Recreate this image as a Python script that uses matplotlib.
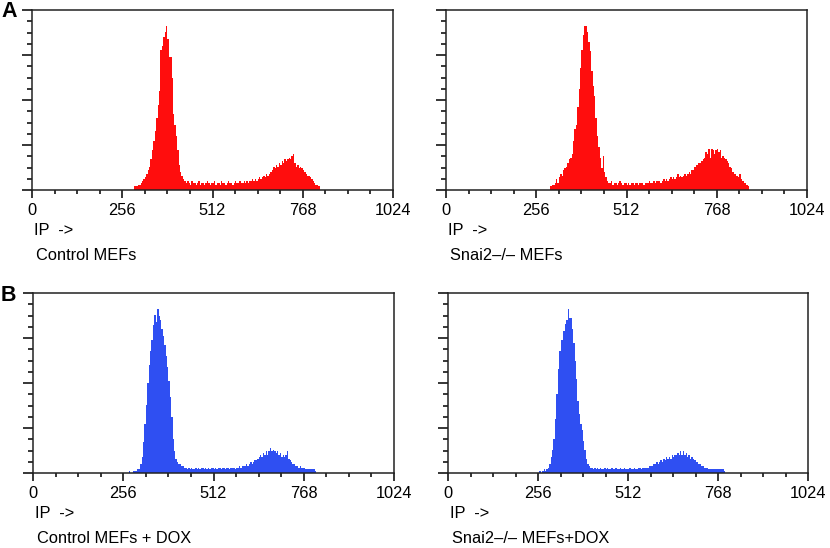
import numpy as np
import matplotlib
matplotlib.use("Agg")
import matplotlib.pyplot as plt
from matplotlib.ticker import MultipleLocator

# channel bins are 4 wide; each series starts at its own first channel
bin_width = 4

ctrl_start = 288
ctrl_counts = [2, 2, 2, 3, 3, 4, 5, 6,
               7, 9, 11, 13, 17, 22, 27, 33, 40, 47,
               55, 78, 80, 85, 88, 91, 84, 74, 74, 62,
               42, 36, 30, 22, 14, 10, 8, 6,
               5, 4, 5, 4, 3, 5, 4, 4, 3, 4, 5, 3, 4, 4, 3, 4, 5, 4, 3, 4,
               4, 5, 3, 4, 4, 3, 5, 4, 4, 3, 4, 5, 4, 4, 3, 4, 5, 4, 4, 5,
               4, 4, 5, 4, 5, 4, 5, 5, 6, 5, 6, 5,
               6, 7, 6, 7, 8, 7, 9, 8, 9, 10, 11, 13, 12, 14, 13, 15, 14, 16, 15, 17,
               16, 17, 18, 17, 19, 20, 15, 13, 14, 12, 13, 12, 11, 10, 9, 8, 8, 7, 6, 5,
               4, 3, 3, 2]

ko_start = 296
ko_counts = [2, 3, 3, 4, 6, 4, 7, 9, 8, 11, 12, 13, 15, 17, 18, 20, 27, 34, 36, 46,
             56, 68, 78, 86, 91, 91, 88, 82, 77, 66, 58, 52, 40, 30, 24, 18, 12, 19, 10, 7, 5,
             4, 4, 5, 3, 4, 4, 3, 4, 5, 4, 3, 4, 4, 3, 4, 3, 4, 4, 3, 4,
             4, 3, 4, 4, 4, 3, 4, 4, 4, 5, 4, 4, 5, 4, 5,
             5, 5, 4, 5, 6, 5, 6, 5, 6, 7, 6, 7, 6, 7, 9, 7, 8, 7, 8, 9,
             8, 9, 10, 9, 11, 11, 13, 14, 14, 15, 15, 16, 17, 18, 21, 20, 23, 18, 23, 22,
             20, 22, 23, 21, 22, 18, 19, 18, 17, 16, 15, 13, 12, 10, 9, 9, 8, 7, 9, 6,
             5, 4, 4, 3, 2]

ctrl_dox_start = 272
ctrl_dox_counts = [1, 0, 0, 1, 1, 1, 2, 2, 5, 9, 17, 27, 38, 50, 60, 68, 74, 82, 88, 84,
                   91, 87, 85, 80, 76, 71, 65, 59, 51, 42, 31, 19, 12, 8, 6, 5, 5, 4, 4, 3,
                   3, 2, 3, 2, 3, 2, 2, 3, 2, 3, 2, 3, 3, 2, 3, 2, 3, 2, 3, 3,
                   2, 3, 2, 3, 3, 2, 3, 3, 2, 3, 3, 2, 3, 3, 3, 2, 3, 3, 4, 3, 4,
                   4, 4, 5, 4, 5, 6, 5, 6, 7, 7, 8, 9, 10, 9, 11, 10, 12, 10, 12, 14,
                   12, 13, 12, 11, 12, 10, 11, 9, 10, 9, 10, 12, 8, 7, 6, 5, 5, 4, 4, 3,
                   4, 3, 3, 3, 2, 2, 2, 2, 2, 2, 2, 1]

ko_dox_start = 260
ko_dox_counts = [1, 0, 1, 2, 1, 2, 3, 5, 9, 13, 19, 30, 44, 58, 68, 74, 74, 79, 83, 85,
                 91, 86, 86, 80, 72, 62, 52, 40, 33, 27, 24, 18, 13, 8, 5, 4,
                 3, 3, 2, 3, 2, 3, 2, 3, 2, 2, 3, 2, 3, 2, 2, 3, 2, 2, 3, 2,
                 2, 3, 2, 2, 3, 2, 2, 2, 3, 2, 2, 3, 2, 2, 3, 3, 2, 3, 3, 3, 3, 3, 4,
                 4, 4, 5, 5, 6, 5, 6, 7, 6, 8, 7, 9, 8, 9, 8, 10, 9, 10, 10, 11,
                 10, 12, 10, 12, 10, 11, 9, 10, 8, 9, 8, 7, 6, 6, 5, 5, 4, 4, 3, 3,
                 3, 2, 2, 2, 2, 2, 2, 2, 2, 2, 2, 2, 1]

titles = ["Control MEFs", "Snai2\u2013/\u2013 MEFs",
          "Control MEFs + DOX", "Snai2\u2013/\u2013 MEFs+DOX"]
x_label = "IP  ->"

RED = "#ff0d0d"
BLUE = "#2f4ff2"
FS = 11.8

plt.rcParams['font.family'] = ['Liberation Sans', 'DejaVu Sans']

W, H = 830, 548
fig = plt.figure(figsize=(W / 100, H / 100), dpi=100)


def px_axes(left, top, right, bottom):
    return fig.add_axes([left / W, 1 - bottom / H, (right - left) / W, (bottom - top) / H])


def draw_hist(ax, start, counts, color):
    edges = start + bin_width * np.arange(len(counts))
    ax.bar(edges, counts, width=bin_width, align='edge', color=color, linewidth=0)
    ax.set_xlim(0, 1024)
    ax.set_ylim(0, 100)
    ax.xaxis.set_major_locator(MultipleLocator(256))
    ax.xaxis.set_minor_locator(MultipleLocator(64))
    ax.yaxis.set_major_locator(MultipleLocator(25))
    ax.yaxis.set_minor_locator(MultipleLocator(6.25))
    ax.set_yticklabels([])
    ax.tick_params(axis='x', which='major', length=6, width=1.1, labelsize=FS, pad=3)
    ax.tick_params(axis='x', which='minor', length=3, width=1.1)
    ax.tick_params(axis='y', which='major', length=7.5, width=1.1)
    ax.tick_params(axis='y', which='minor', length=3.6, width=1.1)
    for s in ax.spines.values():
        s.set_linewidth(1.1)
        s.set_color('#222222')


panels = [
    ((32, 10, 393, 190), ctrl_start, ctrl_counts, RED),
    ((446, 10, 807, 190), ko_start, ko_counts, RED),
    ((33, 293, 394, 473), ctrl_dox_start, ctrl_dox_counts, BLUE),
    ((448, 293, 808, 473), ko_dox_start, ko_dox_counts, BLUE),
]

for i, (box, start, counts, color) in enumerate(panels):
    ax = px_axes(*box)
    draw_hist(ax, start, counts, color)
    left, top, right, bottom = box
    fig.text((left + 2) / W, 1 - (bottom + 45) / H, x_label, fontsize=FS, va='baseline')
    fig.text((left + 4) / W, 1 - (bottom + 70) / H, titles[i], fontsize=FS, va='baseline')

fig.text(1 / W, 1 - 17 / H, "A", fontsize=15.5, fontweight='bold', va='baseline')
fig.text(1 / W, 1 - 301 / H, "B", fontsize=15.5, fontweight='bold', va='baseline')

fig.savefig("out.png", dpi=100)
